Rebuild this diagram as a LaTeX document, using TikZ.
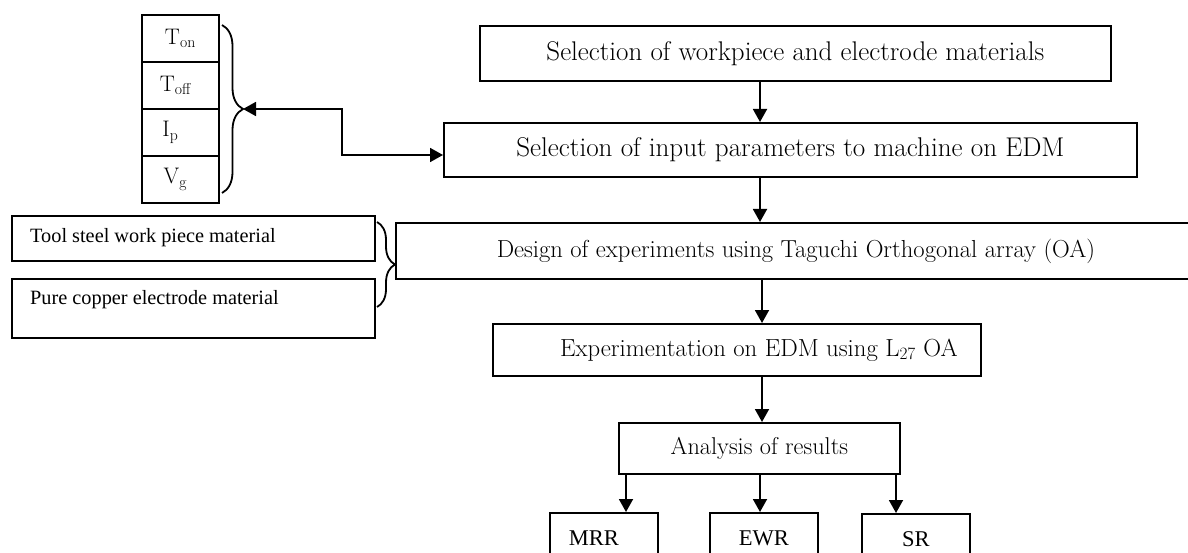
\documentclass[tikz,border=0pt]{standalone}
\usepackage{fontspec}
\newfontfamily\timesf{Liberation Serif}
\usetikzlibrary{arrows.meta,decorations.pathreplacing}

\tikzset{
  box/.style={draw, line width=1.8pt, inner sep=0pt, anchor=north west},
  txt/.style={font=\fontsize{#1}{#1}\selectfont, inner sep=0pt},
  partxt/.style={font=\fontsize{22.5}{26}\selectfont, inner sep=0pt},
  tmtxt/.style={font=\timesf\fontsize{20.3}{24}\selectfont, inner sep=0pt, anchor=west},
  restxt/.style={font=\timesf\fontsize{22.5}{26}\selectfont, inner sep=0pt},
  tip/.tip={Triangle[length=13pt,width=14pt]},
  arr/.style={line width=1.8pt, -tip},
  arrboth/.style={line width=1.8pt, tip-tip},
  bracepath/.style={line width=1.8pt, decorate},
}

\begin{document}
\begin{tikzpicture}[x=1pt,y=-1pt]
\useasboundingbox (0,0) rectangle (1188,553);
\clip (0,0) rectangle (1188,553);

% main process chain
\node[box, minimum width=631pt, minimum height=55pt] (sel) at (479,25) {};
\node[txt=27] at (sel.center) {Selection of workpiece and electrode materials};

\node[box, minimum width=693pt, minimum height=54pt] (inp) at (443,122) {};
\node[txt=27.1] at (inp.center) {Selection of input parameters to machine on EDM};

\node[box, minimum width=800pt, minimum height=56pt] (doe) at (395,222) {};
\node[txt=24.6] at (doe.center) {Design of experiments using Taguchi Orthogonal array (OA)};

\node[box, minimum width=488pt, minimum height=52pt] (expt) at (492,323) {};
\node[txt=24.7] at ([xshift=22pt]expt.center) {Experimentation on EDM using L\textsubscript{27} OA};

\node[box, minimum width=281pt, minimum height=51pt] (ana) at (618,422) {};
\node[txt=24.3] at (ana.center) {Analysis of results};

% responses
\node[box, minimum width=108pt, minimum height=50pt] (mrr) at (549,512) {};
\node[restxt] at ([xshift=-10pt]mrr.center) {MRR};
\node[box, minimum width=108pt, minimum height=50pt] (ewr) at (709,512) {};
\node[restxt] at (ewr.center) {EWR};
\node[box, minimum width=108pt, minimum height=50pt] (sr) at (861,513) {};
\node[restxt] at (sr.center) {SR};

% process parameters
\node[box, minimum width=77pt, minimum height=47pt] (ton) at (141,14) {};
\node[partxt] at (ton.center) {T\textsubscript{on}};
\node[box, minimum width=77pt, minimum height=47pt] (toff) at (141,61) {};
\node[partxt] at ([xshift=-5pt]toff.center) {T\textsubscript{off}};
\node[box, minimum width=77pt, minimum height=47pt] (ip) at (141,108) {};
\node[partxt] at ([xshift=-10pt]ip.center) {I\textsubscript{p}};
\node[box, minimum width=77pt, minimum height=47pt] (vg) at (141,155) {};
\node[partxt] at ([xshift=-5pt]vg.center) {V\textsubscript{g}};

% materials
\node[box, minimum width=363pt, minimum height=45pt] (tool) at (11,215) {};
\node[tmtxt] at (30,237.5) {Tool steel work piece material};
\node[box, minimum width=363pt, minimum height=59pt] (cu) at (11,278) {};
\node[tmtxt] at (30,300) {Pure copper electrode material};

% braces
\draw[bracepath, decoration={brace, amplitude=21pt}] (222,25) -- (222,193);
\coordinate (ptip) at (243,109);
\draw[bracepath, decoration={brace, amplitude=18pt}] (377,222) -- (377,307);
\coordinate (mtip) at (395,264.5);

% connectors
\draw[arr] (sel.south -| 760,0) -- (inp.north -| 760,0);
\draw[arr] (inp.south -| 760,0) -- (doe.north -| 760,0);
\draw[arr] (doe.south -| 762,0) -- (expt.north -| 762,0);
\draw[arr] (expt.south -| 762,0) -- (ana.north -| 762,0);
\draw[arr] (ana.south -| 626,0) -- (mrr.north -| 626,0);
\draw[arr] (ana.south -| 760,0) -- (ewr.north -| 760,0);
\draw[arr] (ana.south -| 896,0) -- (sr.north -| 896,0);

\coordinate (bend) at (342,155);
\draw[arrboth] (ptip) -| (bend) -- (inp.west |- bend);
\end{tikzpicture}
\end{document}
